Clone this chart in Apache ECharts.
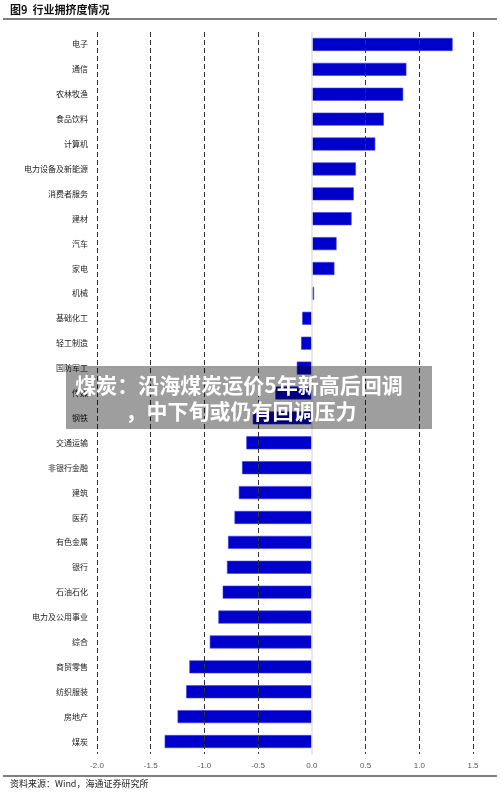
<!DOCTYPE html>
<html>
<head>
<meta charset="utf-8">
<script src="https://cdn.jsdelivr.net/npm/echarts@6/dist/echarts.min.js"></script>
<style>
html,body{margin:0;padding:0;background:#fff;}
#chart{width:500px;height:798px;}
</style>
</head>
<body>
<div id="chart"></div>
<script>
const categories = ['电子','通信','农林牧渔','食品饮料','计算机','电力设备及新能源','消费者服务','建材','汽车','家电','机械','基础化工','轻工制造','国防军工','传媒','钢铁','交通运输','非银行金融','建筑','医药','有色金属','银行','石油石化','电力及公用事业','综合','商贸零售','纺织服装','房地产','煤炭'];
const crowding = [1.31,0.88,0.85,0.67,0.59,0.41,0.39,0.37,0.23,0.21,0.02,-0.09,-0.10,-0.14,-0.34,-0.55,-0.61,-0.65,-0.68,-0.72,-0.78,-0.79,-0.83,-0.87,-0.95,-1.14,-1.17,-1.25,-1.37];
const xTicks = [-2.0,-1.5,-1.0,-0.5,0.0,0.5,1.0,1.5];
const titleText = '图9  行业拥挤度情况';
const sourceText = '资料来源：Wind，海通证券研究所';
const overlayLines = ['煤炭：沿海煤炭运价5年新高后回调', '，中下旬或仍有回调压力'];

const chart = echarts.init(document.getElementById('chart'), null, {renderer:'canvas'});
const gridColors = xTicks.map(v => v === 0 ? 'rgba(0,0,0,0)' : '#333');
const cjk = '"Noto Sans CJK SC", sans-serif';

chart.setOption({
  animation: false,
  backgroundColor: '#fff',
  grid: {left: 97, right: 27, top: 32, bottom: 44, containLabel: false},
  xAxis: {
    type: 'value', min: xTicks[0], max: xTicks[xTicks.length-1], interval: 0.5,
    z: 5,
    axisLine: {show: false}, axisTick: {show: false},
    axisLabel: {color: '#555', fontSize: 8, margin: 8, fontFamily: 'Liberation Sans, Arial, sans-serif', formatter: v => v.toFixed(1)},
    splitLine: {show: true, lineStyle: {type: [5,3], width: 1, color: gridColors}}
  },
  yAxis: {
    type: 'category', data: categories, inverse: true,
    axisLine: {show: false}, axisTick: {show: false},
    axisLabel: {color: '#222', fontSize: 8, margin: 9, fontFamily: cjk, interval: 0}
  },
  series: [{
    type: 'bar', data: crowding, barWidth: 13,
    itemStyle: {color: '#0000cc', borderColor: '#4040e0', borderWidth: 0.6},
    markLine: {
      silent: true, symbol: 'none', label: {show: false},
      lineStyle: {color: '#e2e2e2', type: 'solid', width: 1.5},
      data: [{xAxis: 0}]
    }
  }],
  graphic: [
    {type: 'text', left: 10, top: 4, style: {text: titleText, font: 'bold 11px ' + cjk, fill: '#111'}},
    {type: 'line', shape: {x1: 3, y1: 19, x2: 497, y2: 19}, style: {stroke: '#555', lineWidth: 1.5}},
    {type: 'line', shape: {x1: 3, y1: 776, x2: 497, y2: 776}, style: {stroke: '#555', lineWidth: 1.5}},
    {type: 'text', left: 10, top: 779, style: {text: sourceText, font: '9px ' + cjk, fill: '#222'}},
    {type: 'rect', shape: {x: 66, y: 366, width: 366, height: 63}, style: {fill: 'rgba(0,0,0,0.38)'}, z: 100},
    {type: 'text', x: 239, y: 385, z: 101, style: {text: overlayLines[0], font: 'bold 21px ' + cjk, fill: '#fff', align: 'center', verticalAlign: 'middle'}},
    {type: 'text', x: 241, y: 411, z: 101, style: {text: overlayLines[1], font: 'bold 21px ' + cjk, fill: '#fff', align: 'center', verticalAlign: 'middle'}}
  ]
});
</script>
</body>
</html>
